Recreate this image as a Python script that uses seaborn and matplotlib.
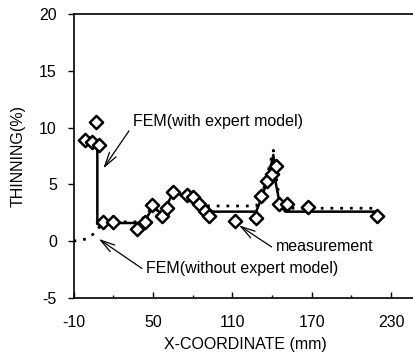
import numpy as np
import pandas as pd
import matplotlib
matplotlib.use('Agg')
import matplotlib.pyplot as plt
import seaborn as sns

# measured thinning
meas_x = [-1, 4, 9, 7, 12, 20, 38, 44, 49, 57, 61, 65, 76, 80, 85, 89, 92,
          112, 128, 132, 136, 140, 143, 145, 151, 167, 219]
meas_y = [8.9, 8.7, 8.5, 10.5, 1.7, 1.7, 1.1, 1.7, 3.2, 2.2, 2.9, 4.3, 4.1, 3.9,
          3.3, 2.7, 2.2, 1.8, 2.0, 4.0, 5.3, 5.9, 6.6, 3.3, 3.3, 3.0, 2.2]

# FEM with expert model (solid)
fem_x = [8, 8, 12, 40, 44, 50, 57, 65, 76, 85, 92, 128, 132, 137, 141, 143, 146, 150, 219]
fem_y = [8.4, 1.5, 1.6, 1.6, 1.8, 3.0, 2.4, 4.2, 4.0, 3.3, 2.6, 2.6, 3.8, 5.5, 7.6, 5.0, 3.2, 2.6, 2.6]

# FEM without expert model (dotted)
nofem_x = [-10, 0, 7, 12, 40, 50, 57, 65, 76, 92, 128, 132, 141, 141.5, 146, 150, 219]
nofem_y = [0.0, 0.2, 0.8, 1.7, 1.7, 3.0, 2.4, 4.2, 4.0, 3.1, 3.1, 3.8, 8.0, 7.0, 3.3, 2.9, 2.9]

sns.set_style('ticks')
plt.rcParams['font.family'] = ['Liberation Sans', 'DejaVu Sans']
plt.rcParams['axes.unicode_minus'] = False
for k in ['text.color', 'axes.labelcolor', 'xtick.color', 'ytick.color', 'axes.edgecolor']:
    plt.rcParams[k] = 'black'

fig = plt.figure(figsize=(4.13, 3.59), dpi=100)
ax = fig.add_axes([0.178, 0.17, 0.83, 0.791])

sns.lineplot(x=nofem_x, y=nofem_y, ax=ax, color='black', lw=2, linestyle=(0, (1, 2.5)),
             sort=False, estimator=None)
sns.lineplot(x=fem_x, y=fem_y, ax=ax, color='black', lw=1.8, sort=False, estimator=None)
sns.scatterplot(x=meas_x, y=meas_y, ax=ax, marker='D', s=45, facecolor='white',
                edgecolor='black', linewidth=1.8, zorder=5)

ax.set_xlim(-10, 249)
ax.set_ylim(-5, 20)
ax.set_xticks([-10, 50, 110, 170, 230])
ax.set_xticks([20, 80, 140, 200], minor=True)
ax.set_yticks([-5, 0, 5, 10, 15, 20])
ax.tick_params(axis='x', direction='in', length=4, width=1, labelsize=11.5, pad=12)
ax.tick_params(axis='x', which='minor', direction='in', length=2.5, width=1)
ax.tick_params(axis='y', direction='out', length=4, width=1, labelsize=11.5, pad=8)
for s in ['left', 'bottom', 'top']:
    ax.spines[s].set_linewidth(1.2)
ax.spines['right'].set_visible(False)

ax.set_xlabel('X-COORDINATE (mm)', fontsize=11.5, labelpad=5)
ax.set_ylabel('THINNING(%)', fontsize=11.5, labelpad=10)

arr = dict(arrowstyle='->, head_length=0.9, head_width=0.25', color='black', lw=0.9,
           shrinkA=1, shrinkB=0, relpos=(0, 0.3))
ax.annotate('FEM(with expert model)', xy=(12.5, 6.4), xytext=(35, 10.5),
            fontsize=11.5, va='center', arrowprops=arr)
ax.annotate('measurement', xy=(115, 1.4), xytext=(143, -0.5),
            fontsize=11.5, va='center', arrowprops=arr)
ax.annotate('FEM(without expert model)', xy=(9, 0.2), xytext=(45, -2.4),
            fontsize=11.5, va='center', arrowprops=arr)

fig.savefig('out.png', dpi=100)
